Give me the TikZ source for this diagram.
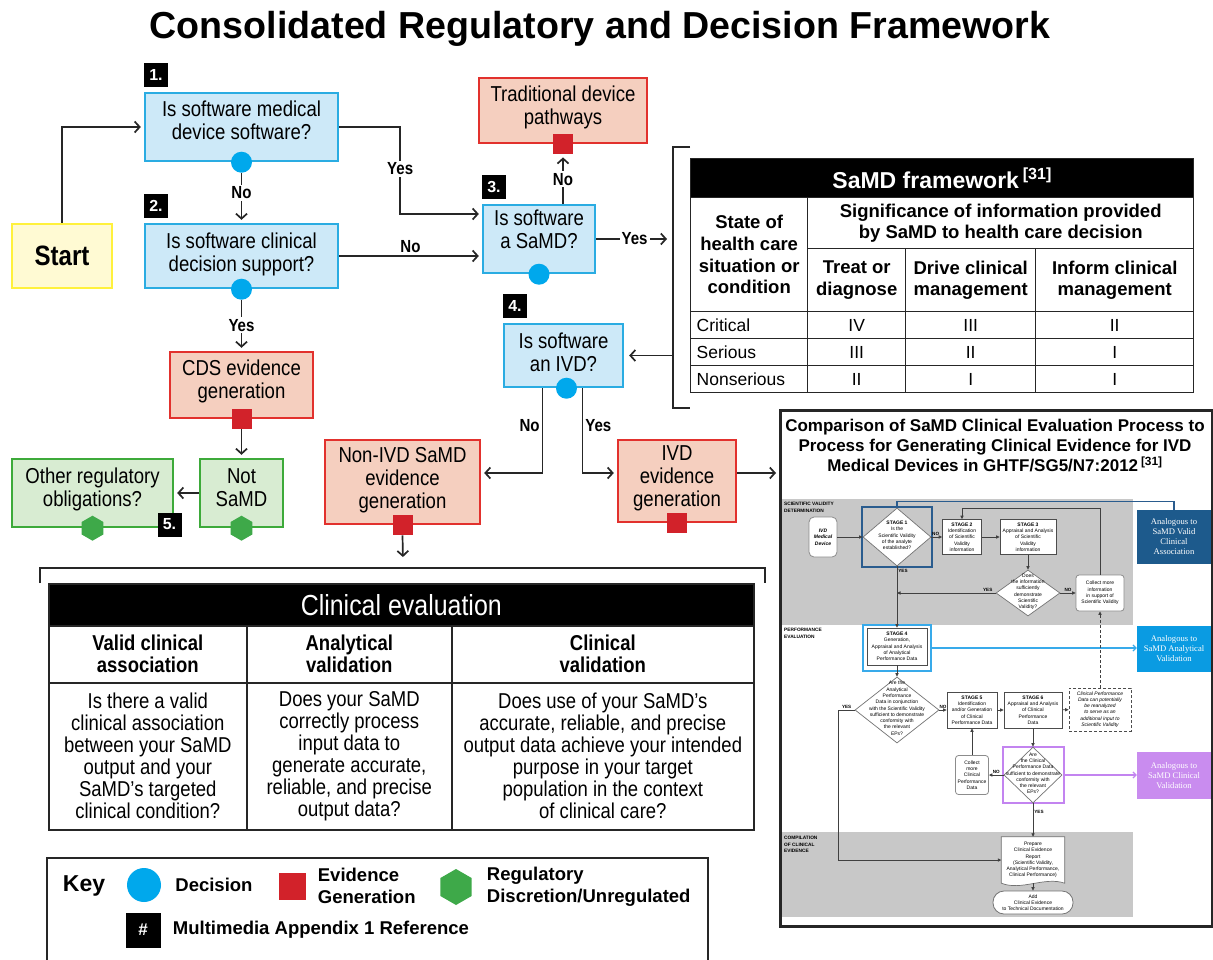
\documentclass[tikz,border=0pt]{standalone}
\usepackage{fontspec}
\setmainfont{Liberation Sans}
\newfontfamily\condfont[FakeStretch=0.86]{Liberation Sans}
\newfontfamily\anafont{Liberation Serif}
\usetikzlibrary{arrows.meta, positioning, shapes.geometric, calc, backgrounds}

\definecolor{qfill}{HTML}{CDE9F8}
\definecolor{qline}{HTML}{2AACE2}
\definecolor{qdot}{HTML}{00A8EC}
\definecolor{evfill}{HTML}{F5CFBF}
\definecolor{evline}{HTML}{E2312D}
\definecolor{evsq}{HTML}{D2222A}
\definecolor{rgfill}{HTML}{D8ECD2}
\definecolor{rgline}{HTML}{3DAA3A}
\definecolor{rghex}{HTML}{3EA949}
\definecolor{stfill}{HTML}{FFFAD3}
\definecolor{stline}{HTML}{FFF13C}
\definecolor{band}{HTML}{C8C8C8}
\definecolor{anaA}{HTML}{1D5A8C}
\definecolor{anaB}{HTML}{0A9BE2}
\definecolor{anaC}{HTML}{C98CEF}
\definecolor{frameA}{HTML}{2A5C8E}
\definecolor{frameB}{HTML}{38AAEA}
\definecolor{frameC}{HTML}{C384F0}

\newcommand{\gfont}{\fontsize{5}{6.3}\selectfont}
\newcommand{\dtext}[1]{\makebox[0pt]{\smash{\begin{tabular}{@{}c@{}}#1\end{tabular}}}}
\newcommand{\btext}[2][-3pt]{\raisebox{#1}[0pt][0pt]{\begin{tabular}{@{}c@{}}#2\end{tabular}}}

\begin{document}
\begin{tikzpicture}[x=1pt, y=-1pt,
    question/.style={rectangle, draw=qline, fill=qfill, line width=2.4pt, align=center, inner sep=1pt, font=\condfont\fontsize{21.6}{23}\selectfont},
    evidence/.style={question, draw=evline, fill=evfill},
    regul/.style={question, draw=rgline, fill=rgfill},
    badge/.style={rectangle, fill=black, text=white, minimum size=24pt, inner sep=0pt, font=\bfseries\fontsize{16}{16}\selectfont},
    decdot/.style={circle, fill=qdot, minimum size=21pt, inner sep=0pt},
    evdot/.style={rectangle, fill=evsq, minimum size=20pt, inner sep=0pt},
    rgdot/.style={regular polygon, regular polygon sides=6, shape border rotate=30, fill=rghex, minimum size=25pt, inner sep=0pt},
    lbl/.style={font=\condfont\bfseries\fontsize{17.5}{17.5}\selectfont, fill=white, inner sep=2pt},
    flow/.style={-{Straight Barb[length=5pt,width=11pt]}, line width=1.7pt, draw=black!85, shorten >=3pt},
    brace/.style={line width=1.8pt, draw=black!85},
    samdcell/.style={draw=black!85, line width=1.4pt, anchor=north west, inner sep=0pt, align=center, font=\bfseries\fontsize{18.5}{21.7}\selectfont},
    samdrow/.style={draw=black!85, line width=1.4pt, anchor=north west, minimum height=27pt, inner xsep=6pt, inner ysep=0pt, font=\fontsize{17.5}{20}\selectfont},
    cecell/.style={draw=black!85, line width=1.6pt, anchor=north west, inner sep=0pt, align=center, font=\condfont\fontsize{21.5}{22}\selectfont},
    keytxt/.style={inner sep=0pt, align=left, font=\bfseries\fontsize{18.5}{22}\selectfont},
    gbox/.style={rectangle, draw=black!70, fill=white, line width=0.8pt, align=center, inner sep=0pt, font=\gfont},
    ground/.style={gbox, rounded corners=3pt, draw=black!45},
    gdia/.style={diamond, draw=black!55, fill=white, line width=0.7pt, inner sep=0pt, font=\gfont},
    ganalog/.style={rectangle, text=white, align=center, inner sep=0pt, minimum width=74pt, font=\anafont\fontsize{8.6}{10}\selectfont},
    gframe/.style={rectangle, line width=1.5pt, inner sep=0pt},
    gsec/.style={anchor=north west, align=left, inner sep=0pt, font=\bfseries\fontsize{4.8}{6.5}\selectfont},
    garrow/.style={-{Triangle[length=3.5pt,width=3.2pt]}, line width=0.8pt, draw=black!75},
    glbl/.style={font=\bfseries\fontsize{4.6}{5}\selectfont, inner sep=1pt}
]
\useasboundingbox (0,0) rectangle (1213,959);

% Bands of the GHTF chart
\begin{scope}[on background layer]
\fill[white] (0,0) rectangle (1213,959);
\fill[band] (782,499) rectangle (1133,625);
\fill[band] (782,832) rectangle (1133,917);
\end{scope}

\node[font=\bfseries\fontsize{37.6}{40}\selectfont] (title) at (600,29) {Consolidated Regulatory and Decision Framework};

% Decision path
\node[rectangle, draw=stline, fill=stfill, line width=2.4pt, minimum width=100pt, minimum height=64pt, font=\condfont\bfseries\fontsize{28}{28}\selectfont] (start) at (62,256) {Start};
\node[question, minimum width=193pt, minimum height=68pt] (q1) at (241.5,127) {\btext[-2pt]{Is software medical\\device software?}};
\node[question, minimum width=193pt, minimum height=64pt] (q2) at (241.5,256) {\btext[-5pt]{Is software clinical\\decision support?}};
\node[question, minimum width=112pt, minimum height=68pt] (q3) at (539,239) {\btext[1.5pt]{Is software\\a SaMD?}};
\node[question, minimum width=119pt, minimum height=63pt] (q4) at (563.5,355.5) {\btext[-5pt]{Is software\\an IVD?}};
\node[evidence, minimum width=168pt, minimum height=65pt] (trad) at (563,110.5) {\btext{Traditional device\\pathways}};
\node[evidence, minimum width=143pt, minimum height=66pt] (cds) at (241.5,385) {\btext{CDS evidence\\generation}};
\node[evidence, minimum width=155pt, minimum height=84pt] (nonivd) at (402.5,482) {\btext[-4pt]{Non-IVD SaMD\\evidence\\generation}};
\node[evidence, minimum width=118pt, minimum height=82pt] (ivd) at (677,481) {\btext{IVD\\evidence\\generation}};
\node[regul, minimum width=83pt, minimum height=68pt] (notsamd) at (241.5,493) {\btext{Not\\SaMD}};
\node[regul, minimum width=161pt, minimum height=68pt] (other) at (92.5,493) {\btext{Other regulatory\\obligations?}};

% Markers on the boxes
\node[decdot] (d1) at (q1.south) {};
\node[decdot] (d2) at (q2.south) {};
\node[decdot] (d3) at (q3.south) {};
\node[decdot] (d4) at ([xshift=3pt]q4.south) {};
\node[evdot] (s1) at (trad.south) {};
\node[evdot] (s2) at (cds.south) {};
\node[evdot] (s3) at (nonivd.south) {};
\node[evdot] (s4) at (ivd.south) {};
\node[rgdot] (h1) at (notsamd.south) {};
\node[rgdot] (h2) at (other.south) {};

\node[badge, above right=5pt and 0pt of q1.north west] (b1) {1.};
\node[badge, above right=5pt and 0pt of q2.north west] (b2) {2.};
\node[badge, above right=5pt and 0pt of q3.north west] (b3) {3.};
\node[badge, above right=5pt and 0pt of q4.north west] (b4) {4.};
\node[badge] (b5) at (169.5,524.5) {5.};

% Brackets
\coordinate (samdtop) at (673,147);
\coordinate (samdbot) at (673,408);
\draw[brace] ([xshift=17pt]samdtop) -- (samdtop) -- (samdbot) -- ([xshift=17pt]samdbot);
\coordinate (ceL) at (40,568);
\coordinate (ceR) at (765,568);
\coordinate (cetop) at (403,560);
\draw[brace] ([yshift=-15pt]ceL) -- (ceL) -- (ceR) -- ([yshift=-15pt]ceR);

% Arrows
\draw[flow] (start.north) |- (q1.west);
\draw[flow] (q1.east) -- ++(61,0) |- node[lbl, pos=0.24] {Yes} ([yshift=25pt]q3.west);
\draw[flow] (d1) -- node[lbl, pos=0.4] {No} (q2.north);
\draw[flow] (q2.east) -- node[lbl, above, fill=none] {No} (q2.east -| q3.west);
\draw[flow] (q3.north -| trad.south) -- node[lbl] {No} (s1.south);
\draw[flow, shorten >=6pt] (q3.east) -- node[lbl] {Yes} (q3.east -| samdtop);
\draw[flow, shorten >=5pt] (q4.east -| samdtop) -- (q4.east);
\draw[flow] ([xshift=-21pt]q4.south) |- node[lbl, left, fill=none, pos=0.22] {No} ([yshift=9pt]nonivd.east);
\draw[flow] ([xshift=19pt]q4.south) |- node[lbl, right, fill=none, pos=0.22] {Yes} ([yshift=8pt]ivd.west);
\draw[flow] (d2) -- node[lbl] {Yes} (cds.north);
\draw[flow] (s2.south) -- (notsamd.north);
\draw[flow] (notsamd.west) -- (other.east);
\draw[flow] (s3.south) -- (cetop);

% SaMD framework table
\node[samdcell, fill=black, text=white, minimum width=503pt, minimum height=39pt, font=\bfseries\fontsize{23}{23}\selectfont] (samdhead) at (690,158) {SaMD framework\,\textsuperscript{[31]}};
\node[samdcell, minimum width=117pt, minimum height=114pt] (state) at (690,197) {State of\\health care\\situation or\\condition};
\node[samdcell, minimum width=386pt, minimum height=51pt] (signif) at (807,197) {Significance of information provided\\by SaMD to health care decision};
\node[samdcell, minimum width=98pt, minimum height=63pt] (treat) at (807,248) {Treat or\\diagnose};
\node[samdcell, minimum width=130pt, minimum height=63pt] (drive) at (905,248) {Drive clinical\\management};
\node[samdcell, minimum width=158pt, minimum height=63pt] (inform) at (1035,248) {Inform clinical\\management};
\foreach \rlab/\rva/\rvb/\rvc [count=\i] in {Critical/IV/III/II, Serious/III/II/I, Nonserious/II/I/I}{
  \pgfmathsetmacro{\ry}{284+27*\i}
  \node[samdrow, text width=105pt, align=left] (row\i) at (690,\ry) {\rlab};
  \node[samdrow, minimum width=98pt] (row\i-a) at (807,\ry) {\rva};
  \node[samdrow, minimum width=130pt] (row\i-b) at (905,\ry) {\rvb};
  \node[samdrow, minimum width=158pt] (row\i-c) at (1035,\ry) {\rvc};
}

% Clinical evaluation table
\node[cecell, fill=black, text=white, minimum width=705pt, minimum height=42pt, font=\condfont\fontsize{29}{29}\selectfont] (cehead) at (48,583) {Clinical evaluation};
\node[cecell, minimum width=198pt, minimum height=57pt, font=\condfont\bfseries\fontsize{21.5}{22}\selectfont] (ceh1) at (48,625) {Valid clinical\\association};
\node[cecell, minimum width=205pt, minimum height=57pt, font=\condfont\bfseries\fontsize{21.5}{22}\selectfont] (ceh2) at (246,625) {Analytical\\validation};
\node[cecell, minimum width=302pt, minimum height=57pt, font=\condfont\bfseries\fontsize{21.5}{22}\selectfont] (ceh3) at (451,625) {Clinical\\validation};
\node[cecell, minimum width=198pt, minimum height=147pt] (ceb1) at (48,682) {Is there a valid\\clinical association\\between your SaMD\\output and your\\SaMD’s targeted\\clinical condition?};
\node[cecell, minimum width=205pt, minimum height=147pt] (ceb2) at (246,682) {Does your SaMD\\correctly process\\input data to\\generate accurate,\\reliable, and precise\\output data?};
\node[cecell, minimum width=302pt, minimum height=147pt] (ceb3) at (451,682) {Does use of your SaMD’s\\accurate, reliable, and precise\\output data achieve your intended\\purpose in your target\\population in the context\\of clinical care?};

% Key
\draw[line width=2pt, draw=black!85] (47,975) |- (708,858) -- (708,975);
\node[font=\bfseries\fontsize{23}{23}\selectfont, inner sep=0pt] (keyt) at (84,886) {Key};
\node[decdot, minimum size=34pt] (keyd) at (144,885) {};
\node[keytxt, right=14pt of keyd] (keydl) {Decision};
\node[evdot, minimum size=27pt] (keye) at (292,886) {};
\node[keytxt, right=12pt of keye] (keyel) {Evidence\\Generation};
\node[rgdot, minimum size=36pt] (keyr) at (456,887) {};
\node[keytxt, right=15pt of keyr] (keyrl) {Regulatory\\Discretion/Unregulated};
\node[badge, minimum size=35pt, font=\bfseries\fontsize{17}{17}\selectfont] (keyb) at (143,930) {\#};
\node[keytxt, right=12pt of keyb] (keybl) {Multimedia Appendix 1 Reference};

% GHTF comparison panel
\node[draw=black!85, line width=2.5pt, anchor=north west, minimum width=432pt, minimum height=516pt, inner sep=0pt] (ghtf) at (779,409) {};
\draw[flow] ([yshift=8pt]ivd.east) -- ([yshift=8pt]ivd.east -| ghtf.west);
\node[align=center, font=\bfseries\fontsize{17}{20}\selectfont] (ghtitle) at (995,446) {Comparison of SaMD Clinical Evaluation Process to\\Process for Generating Clinical Evidence for IVD\\Medical Devices in GHTF/SG5/N7:2012\,\textsuperscript{[31]}};

\node[gsec] (secA) at (784,502) {SCIENTIFIC VALIDITY\\DETERMINATION};
\node[gsec] (secB) at (784,628) {PERFORMANCE\\EVALUATION};
\node[gsec] (secC) at (784,836) {COMPILATION\\OF CLINICAL\\EVIDENCE};

\node[ground, rounded corners=5pt, minimum width=28pt, minimum height=40pt, font=\bfseries\itshape\fontsize{5}{6.3}\selectfont] (ivdmd) at (823,537) {IVD\\Medical\\Device};
\node[gframe, draw=frameA, minimum width=70pt, minimum height=60pt] (fr1) at (897,537) {};
\node[gdia, minimum width=68pt, minimum height=58pt] (dia1) at (897,537) {\dtext{\textbf{STAGE 1}\\Is the\\Scientific Validity\\of the analyte\\established?}};
\node[gbox, minimum width=39pt, minimum height=35pt] (st2) at (962,537) {\textbf{STAGE 2}\\Identification\\of Scientific\\Validity\\information};
\node[gbox, minimum width=56pt, minimum height=35pt] (st3) at (1028,537) {\textbf{STAGE 3}\\Appraisal and Analysis\\of Scientific\\Validity\\information};
\node[gdia, minimum width=64pt, minimum height=46pt] (dia2) at (1028,593) {\dtext{Does\\the information\\sufficiently\\demonstrate\\Scientific\\Validity?}};
\node[ground, minimum width=48pt, minimum height=36pt] (coll1) at (1100,593) {Collect more\\information\\in support of\\Scientific Validity};
\node[ganalog, fill=anaA, minimum height=54pt] (an1) at (1174,537) {Analogous to\\SaMD Valid\\Clinical\\Association};

\node[gframe, draw=frameB, minimum width=68pt, minimum height=46pt] (fr4) at (897,648) {};
\node[gbox, minimum width=60pt, minimum height=37pt] (st4) at (897,646.5) {\textbf{STAGE 4}\\Generation,\\Appraisal and Analysis\\of Analytical\\Performance Data};
\node[ganalog, fill=anaB, minimum height=46pt] (an2) at (1174,649) {Analogous to\\SaMD Analytical\\Validation};
\node[gdia, minimum width=84pt, minimum height=66pt] (dia3) at (897,710) {\dtext{Are the\\Analytical\\Performance\\Data in conjunction\\with the Scientific Validity\\sufficient to demonstrate\\conformity with\\the relevant\\EPs?}};
\node[gbox, minimum width=50pt, minimum height=36pt] (st5) at (972,710) {\textbf{STAGE 5}\\Identification\\and/or Generation\\of Clinical\\Performance Data};
\node[gbox, minimum width=58pt, minimum height=36pt] (st6) at (1033,710) {\textbf{STAGE 6}\\Appraisal and Analysis\\of Clinical\\Performance\\Data};
\node[gbox, densely dashed, minimum width=62pt, minimum height=43pt, font=\itshape\fontsize{5}{6.3}\selectfont] (note) at (1100,709.5) {Clinical Performance\\Data can potentially\\be reanalyzed\\to serve as an\\additional input to\\Scientific Validity};
\node[gframe, draw=frameC, minimum width=61pt, minimum height=56pt] (fr6) at (1033.5,775) {};
\node[gdia, minimum width=58pt, minimum height=56pt] (dia4) at (1033,775) {\dtext{Are\\the Clinical\\Performance Data\\sufficient to demonstrate\\conformity with\\the relevant\\EPs?}};
\node[ground, minimum width=33pt, minimum height=39pt] (coll2) at (972,775) {Collect\\more\\Clinical\\Performance\\Data};
\node[ganalog, fill=anaC, minimum height=47pt] (an3) at (1174,775.5) {Analogous to\\SaMD Clinical\\Validation};

\node[rectangle, align=center, inner sep=0pt, minimum width=63pt, minimum height=46pt, font=\gfont] (rep) at (1033,860) {Prepare\\Clinical Evidence\\Report\\(Scientific Validity,\\Analytical Performance,\\Clinical Performance)};
\begin{scope}[on background layer]
\draw[draw=black!55, line width=0.7pt, fill=white] (rep.north west) -- (rep.north east) -- (rep.south east) .. controls ([shift={(-20,-7)}]rep.south east) and ([shift={(20,8)}]rep.south west) .. (rep.south west) -- cycle;
\end{scope}
\node[gbox, draw=black!55, rounded corners=11pt, minimum width=80pt, minimum height=23pt] (term) at (1033,902.5) {Add\\Clinical Evidence\\to Technical Documentation};

% GHTF connectors
\draw[garrow] (ivdmd.east) -- (ivdmd.east -| dia1.west);
\draw[garrow] (dia1.east) -- node[glbl, above, pos=0.4] {NO} (st2.west);
\draw[garrow] (st2) -- (st3);
\draw[garrow] (st3) -- (dia2);
\draw[garrow] (dia2) -- node[glbl, above] {NO} (coll1);
\draw[garrow] (dia2.west) -- node[glbl, above, pos=0.08] {YES} (dia2.west -| dia1.south);
\draw[garrow] (coll1.north) -- ++(0,-66) -| (st2.north);
\draw[garrow] (dia1.south) -- node[glbl, right, pos=0.07] {YES} (st4.north);
\draw[line width=1.2pt, draw=frameA] (fr1.north) -- ++(0,-5) -| (an1.north);
\draw[-{Straight Barb[length=3pt,width=6pt]}, line width=1.2pt, draw=frameB] (fr4.east) -- (fr4.east -| an2.west);
\draw[-{Straight Barb[length=3pt,width=6pt]}, line width=1.2pt, draw=frameC] (fr6.east) -- (fr6.east -| an3.west);
\draw[garrow] (st4) -- (dia3);
\draw[garrow] (dia3.east) -- node[glbl, above] {NO} (st5.west);
\draw[garrow] (st5) -- (st6);
\draw[garrow, densely dashed] (st6) -- (note);
\draw[garrow, densely dashed] (note) -- (coll1);
\draw[garrow] (st6) -- (dia4);
\draw[garrow] (dia4.west) -- node[glbl, above] {NO} (coll2.east);
\draw[garrow] (coll2) -- (st5);
\draw[garrow] (dia4.south) -- node[glbl, right, pos=0.25] {YES} (rep.north);
\draw[garrow] (dia3.west) -- node[glbl, above] {YES} ++(-16,0) |- (rep.west);
\draw[garrow] (rep.south) -- (term.north);

\end{tikzpicture}
\end{document}
